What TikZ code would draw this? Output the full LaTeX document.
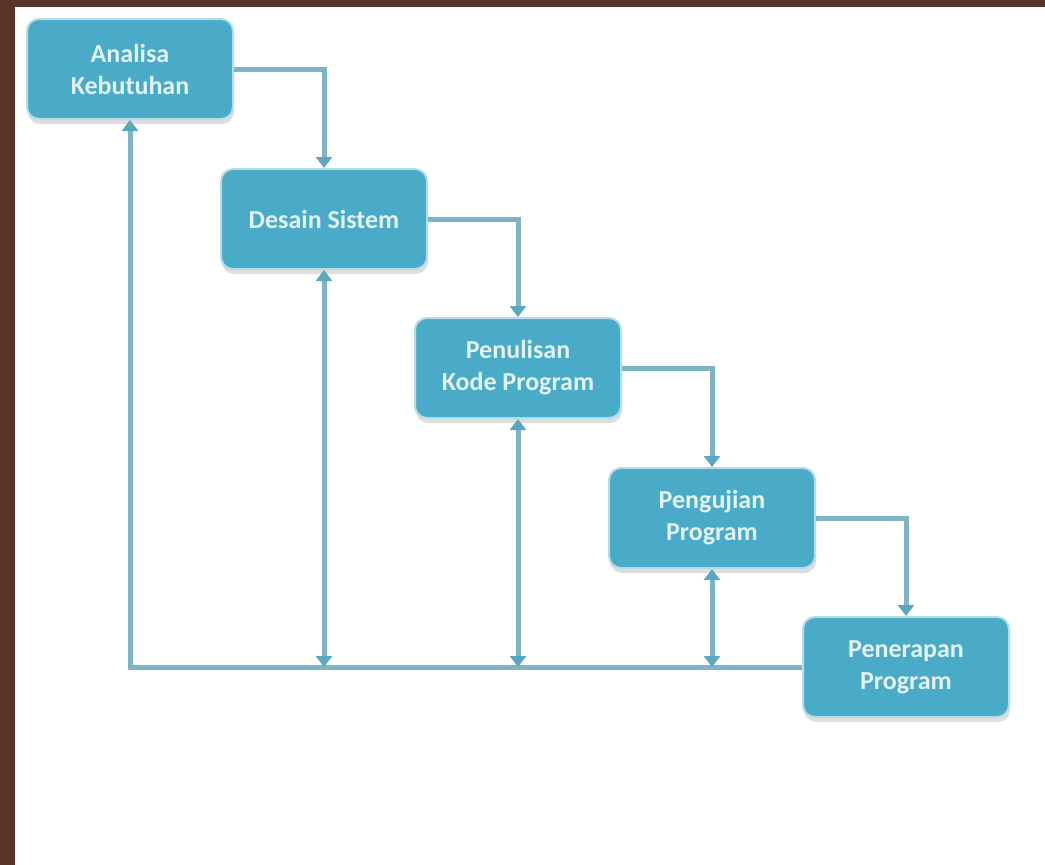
\documentclass[tikz,border=0pt]{standalone}
\usepackage{fontspec}
\setmainfont{Carlito}
\usetikzlibrary{arrows.meta,shadows}
\definecolor{frame}{HTML}{5A3429}
\definecolor{boxfill}{HTML}{4AABC8}
\definecolor{boxedge}{HTML}{B5DDE8}
\definecolor{wire}{HTML}{7DB5C7}
\definecolor{tip}{HTML}{5AA8C0}
\definecolor{label}{HTML}{E2F2F5}
\tikzset{
  phase/.style={rectangle, rounded corners=12pt, minimum width=206pt, minimum height=100pt,
    fill=boxfill, draw=boxedge, line width=2pt, align=center,
    font=\bfseries\fontsize{26}{32}\selectfont, text=label,
    drop shadow={shadow xshift=1pt, shadow yshift=-5pt, fill=black!25, opacity=0.5}},
  tiptri/.tip={Triangle[width=16pt,length=11pt,fill=tip,color=tip]},
  flow/.style={draw=wire, line width=5pt, -tiptri},
  back/.style={draw=wire, line width=5pt, tiptri-tiptri},
  plain/.style={draw=wire, line width=5pt}
}
\begin{document}
\begin{tikzpicture}[x=1pt,y=-1pt]
  % page frame
  \fill[frame] (0,0) rectangle (1045,865);
  \fill[white] (15,7) rectangle (1045,865);
  \useasboundingbox (0,0) rectangle (1045,865);

  % phases
  \node[phase] (b1) at (130,69)  {Analisa\\Kebutuhan};
  \node[phase] (b2) at (324,219) {Desain Sistem};
  \node[phase] (b3) at (518,368) {Penulisan\\Kode Program};
  \node[phase] (b4) at (712,518) {Pengujian\\Program};
  \node[phase] (b5) at (906,667) {Penerapan\\Program};

  % forward flow
  \draw[flow] (b1.east) -| (b2.north);
  \draw[flow] (b2.east) -| (b3.north);
  \draw[flow] (b3.east) -| (b4.north);
  \draw[flow] (b4.east) -| (b5.north);

  % feedback bus
  \draw[flow] (b5.west) -| (b1.south);
  \draw[back] (b2.south |- b5.west) -- (b2.south);
  \draw[back] (b3.south |- b5.west) -- (b3.south);
  \draw[back] (b4.south |- b5.west) -- (b4.south);
\end{tikzpicture}
\end{document}
